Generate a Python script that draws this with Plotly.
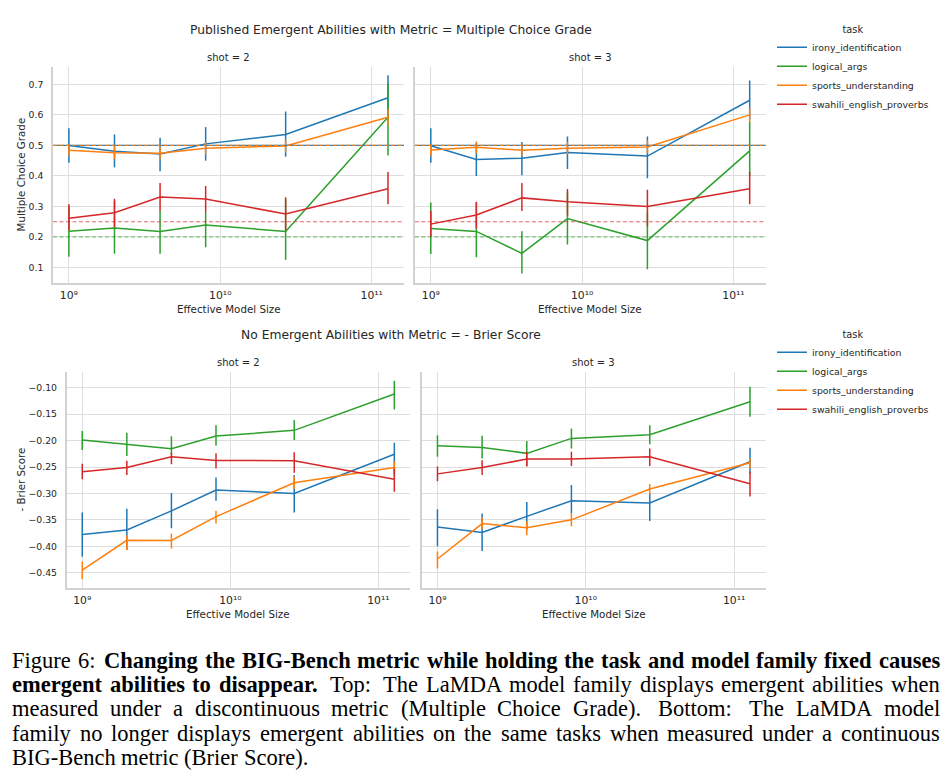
import plotly.graph_objects as go

# ---------------- data ----------------
sizes = [1e9, 2e9, 4e9, 8e9, 2.7e10, 1.28e11]
tasks = ["irony_identification", "logical_args", "sports_understanding", "swahili_english_proverbs"]
colors = {"irony_identification": "#1f77b4", "logical_args": "#2ca02c",
          "sports_understanding": "#ff7f0e", "swahili_english_proverbs": "#d62728"}
chance = {"irony_identification": 0.5, "logical_args": 0.2,
          "sports_understanding": 0.5, "swahili_english_proverbs": 0.25}
x_tickvals = [1e9, 1e10, 1e11]
x_ticktext = ["10\u2079", "10\u00b9\u2070", "10\u00b9\u00b9"]

# Multiple Choice Grade, shot = 2
mcg_s2 = {"irony_identification": [0.500, 0.481, 0.472, 0.505, 0.536, 0.656],
          "logical_args": [0.219, 0.229, 0.218, 0.239, 0.218, 0.592],
          "sports_understanding": [0.484, 0.476, 0.474, 0.491, 0.498, 0.592],
          "swahili_english_proverbs": [0.261, 0.279, 0.331, 0.324, 0.275, 0.358]}
mcg_s2_lo = {"irony_identification": [0.443, 0.428, 0.415, 0.450, 0.463, 0.585],
             "logical_args": [0.135, 0.145, 0.145, 0.166, 0.125, 0.467],
             "sports_understanding": [0.466, 0.455, 0.455, 0.470, 0.477, 0.565],
             "swahili_english_proverbs": [0.222, 0.232, 0.285, 0.282, 0.222, 0.307]}
mcg_s2_hi = {"irony_identification": [0.556, 0.536, 0.525, 0.560, 0.611, 0.730],
             "logical_args": [0.302, 0.318, 0.285, 0.282, 0.325, 0.703],
             "sports_understanding": [0.504, 0.497, 0.494, 0.511, 0.520, 0.619],
             "swahili_english_proverbs": [0.307, 0.325, 0.377, 0.367, 0.330, 0.413]}

# Multiple Choice Grade, shot = 3
mcg_s3 = {"irony_identification": [0.499, 0.454, 0.458, 0.477, 0.465, 0.648],
          "logical_args": [0.228, 0.218, 0.146, 0.260, 0.188, 0.482],
          "sports_understanding": [0.485, 0.494, 0.484, 0.491, 0.495, 0.600],
          "swahili_english_proverbs": [0.242, 0.272, 0.328, 0.315, 0.300, 0.358]}
mcg_s3_lo = {"irony_identification": [0.443, 0.400, 0.402, 0.423, 0.392, 0.585],
             "logical_args": [0.144, 0.133, 0.080, 0.175, 0.094, 0.400],
             "sports_understanding": [0.466, 0.474, 0.465, 0.471, 0.474, 0.575],
             "swahili_english_proverbs": [0.200, 0.228, 0.285, 0.270, 0.235, 0.307]}
mcg_s3_hi = {"irony_identification": [0.556, 0.508, 0.511, 0.529, 0.529, 0.713],
             "logical_args": [0.313, 0.313, 0.219, 0.345, 0.280, 0.579],
             "sports_understanding": [0.505, 0.513, 0.504, 0.512, 0.516, 0.624],
             "swahili_english_proverbs": [0.285, 0.315, 0.377, 0.357, 0.355, 0.413]}

# - Brier Score, shot = 2
brier_s2 = {"irony_identification": [-0.3775, -0.369, -0.333, -0.2936, -0.300, -0.226],
            "logical_args": [-0.199, -0.2066, -0.2154, -0.1914, -0.1807, -0.112],
            "sports_understanding": [-0.445, -0.3888, -0.389, -0.344, -0.2797, -0.251],
            "swahili_english_proverbs": [-0.259, -0.251, -0.2305, -0.2375, -0.238, -0.273]}
brier_s2_lo = {"irony_identification": [-0.420, -0.407, -0.366, -0.314, -0.336, -0.262],
               "logical_args": [-0.218, -0.229, -0.227, -0.210, -0.199, -0.141],
               "sports_understanding": [-0.4626, -0.407, -0.404, -0.357, -0.291, -0.268],
               "swahili_english_proverbs": [-0.273, -0.265, -0.245, -0.253, -0.261, -0.297]}
brier_s2_hi = {"irony_identification": [-0.336, -0.329, -0.299, -0.270, -0.265, -0.204],
               "logical_args": [-0.182, -0.185, -0.192, -0.171, -0.161, -0.087],
               "sports_understanding": [-0.429, -0.379, -0.376, -0.333, -0.268, -0.240],
               "swahili_english_proverbs": [-0.244, -0.238, -0.223, -0.224, -0.222, -0.253]}

# - Brier Score, shot = 3
brier_s3 = {"irony_identification": [-0.3636, -0.3737, -0.3434, -0.3138, -0.318, -0.240],
            "logical_args": [-0.2097, -0.2129, -0.2242, -0.1959, -0.189, -0.1265],
            "sports_understanding": [-0.424, -0.357, -0.365, -0.350, -0.2917, -0.242],
            "swahili_english_proverbs": [-0.263, -0.251, -0.235, -0.235, -0.2305, -0.2816]}
brier_s3_lo = {"irony_identification": [-0.400, -0.409, -0.369, -0.338, -0.352, -0.262],
               "logical_args": [-0.2305, -0.234, -0.248, -0.215, -0.207, -0.155],
               "sports_understanding": [-0.442, -0.368, -0.379, -0.362, -0.302, -0.253],
               "swahili_english_proverbs": [-0.277, -0.265, -0.249, -0.248, -0.248, -0.306]}
brier_s3_hi = {"irony_identification": [-0.330, -0.338, -0.316, -0.284, -0.300, -0.2135],
               "logical_args": [-0.190, -0.191, -0.201, -0.177, -0.171, -0.098],
               "sports_understanding": [-0.410, -0.345, -0.353, -0.338, -0.282, -0.234],
               "swahili_english_proverbs": [-0.249, -0.237, -0.221, -0.221, -0.215, -0.259]}

top_title = "Published Emergent Abilities with Metric = Multiple Choice Grade"
bottom_title = "No Emergent Abilities with Metric = - Brier Score"
x_label = "Effective Model Size"
y_labels = ["Multiple Choice Grade", "- Brier Score"]
shot_labels = ["shot = 2", "shot = 3"]

caption_lines = [
    [("Figure 6:", False), ("Changing the BIG-Bench metric while holding the task and model family fixed causes", True)],
    [("emergent abilities to disappear.", True), ("Top: The LaMDA model family displays emergent abilities when", False)],
    [("measured under a discontinuous metric (Multiple Choice Grade). Bottom: The LaMDA model", False)],
    [("family no longer displays emergent abilities on the same tasks when measured under a continuous", False)],
    [("BIG-Bench metric (Brier Score).", False)],
]

# ---------------- layout helpers ----------------
W, H = 945, 776
FONT = "DejaVu Sans"
TXT = "#262626"


def px(x):
    return x / W


def py(y):
    return 1 - y / H


# (x-left, x-right, y-top, y-bottom) in pixels
panels = [
    ("x", "y", 53.0, 404.0, 67.0, 283.0),
    ("x2", "y2", 414.9, 765.7, 67.0, 283.0),
    ("x3", "y3", 66.7, 410.0, 371.7, 588.3),
    ("x4", "y4", 421.9, 765.7, 371.7, 588.3),
]
panel_data = [
    (mcg_s2, mcg_s2_lo, mcg_s2_hi, "legend", True),
    (mcg_s3, mcg_s3_lo, mcg_s3_hi, "legend", False),
    (brier_s2, brier_s2_lo, brier_s2_hi, "legend2", True),
    (brier_s3, brier_s3_lo, brier_s3_hi, "legend2", False),
]

fig = go.Figure()

for (xa, ya, *_), (mean, lo, hi, leg, show) in zip(panels, panel_data):
    for t in tasks:
        y = mean[t]
        fig.add_trace(go.Scatter(
            x=sizes, y=y, mode="lines", name=t, legend=leg, showlegend=show,
            line=dict(color=colors[t], width=1.5),
            error_y=dict(type="data", symmetric=False,
                         array=[h - v for h, v in zip(hi[t], y)],
                         arrayminus=[v - l for v, l in zip(y, lo[t])],
                         color=colors[t], thickness=1.5, width=0),
            xaxis=xa, yaxis=ya,
        ))

XRANGE = [8.895, 11.213]
GRID = "#dedede"
SPINE = "#d2d2d2"

layout = dict(
    width=W, height=H, margin=dict(l=0, r=0, t=0, b=0),
    paper_bgcolor="white", plot_bgcolor="white",
    font=dict(family=FONT, color=TXT),
    showlegend=True,
)

yranges = [[0.049, 0.757], [0.049, 0.757], [-0.4795, -0.0697], [-0.4795, -0.0697]]
for i, (xa, ya, x0, x1, y0, y1) in enumerate(panels):
    xkey = "xaxis" if xa == "x" else "xaxis" + xa[1:]
    ykey = "yaxis" if ya == "y" else "yaxis" + ya[1:]
    layout[xkey] = dict(
        domain=[px(x0), px(x1)], anchor=ya, type="log", range=XRANGE,
        tickmode="array", tickvals=x_tickvals, ticktext=x_ticktext,
        showgrid=True, gridcolor=GRID, gridwidth=1.3,
        showline=True, linecolor=SPINE, linewidth=1.6, zeroline=False, ticks="",
        tickfont=dict(size=10.8, color=TXT), ticklabelstandoff=1,
    )
    top = i < 2
    layout[ykey] = dict(
        domain=[py(y1), py(y0)], anchor=xa, range=yranges[i],
        dtick=0.1 if top else 0.05, tick0=0, tickformat=".1f" if top else ".2f",
        showgrid=True, gridcolor=GRID, gridwidth=1.3,
        showline=True, linecolor=SPINE, linewidth=1.6, zeroline=False, ticks="",
        showticklabels=(i % 2 == 0), tickfont=dict(size=9.3, color=TXT),
        ticklabelstandoff=6,
    )
    if i % 2 == 1:
        layout[ykey]["matches"] = "y" if top else "y3"

legend_common = dict(
    xanchor="left", yanchor="top", bgcolor="rgba(0,0,0,0)", borderwidth=0,
    font=dict(size=9.4, color=TXT, family=FONT), traceorder="normal",
    title=dict(text="task", side="top center", font=dict(size=9.8, color=TXT)),
    tracegroupgap=0,
)
layout["legend"] = dict(legend_common, x=px(772), y=py(20))
layout["legend2"] = dict(legend_common, x=px(772), y=py(325))

fig.update_layout(**layout)

# chance lines on the top row
shapes = []
for xa, ya in [("x", "y"), ("x2", "y2")]:
    for t in ["logical_args", "swahili_english_proverbs", "irony_identification", "sports_understanding"]:
        dash = "solid" if t == "irony_identification" else "4px,2.5px"
        op = 0.9 if chance[t] == 0.5 else 0.7
        shapes.append(dict(type="line", xref=xa + " domain", x0=0, x1=1,
                           yref=ya, y0=chance[t], y1=chance[t], layer="above",
                           line=dict(color=colors[t], width=1.1, dash=dash), opacity=op))
fig.update_layout(shapes=shapes)

# text: titles, subplot titles, axis titles
ann = []
ann.append(dict(text=top_title, x=px(390.5), y=py(30), font=dict(size=12.3)))
ann.append(dict(text=bottom_title, x=px(391.0), y=py(335), font=dict(size=12.3)))
for i, (xa, ya, x0, x1, y0, y1) in enumerate(panels):
    cx = (x0 + x1) / 2
    ann.append(dict(text=shot_labels[i % 2], x=px(cx), y=py(y0 - 9.5), font=dict(size=10)))
    ann.append(dict(text=x_label, x=px(cx), y=py(y1 + 26), font=dict(size=10.3)))
    if i % 2 == 0:
        ann.append(dict(text=y_labels[i // 2], x=px(20.5), y=py((y0 + y1) / 2), textangle=-90,
                        font=dict(size=10.3)))
for a in ann:
    a.update(xref="paper", yref="paper", showarrow=False, xanchor="center", yanchor="middle")
    a["font"].update(family=FONT, color=TXT)

# ---------------- caption (justified, Times-metric serif) ----------------
REG = dict(zip("abcdefghijklmnopqrstuvwxyz",
               [444, 500, 444, 500, 444, 333, 500, 500, 278, 278, 500, 278, 778,
                500, 500, 500, 500, 333, 389, 278, 500, 500, 722, 500, 500, 444]))
REG.update({"A": 722, "B": 667, "C": 667, "D": 722, "F": 556, "G": 722, "I": 333,
            "L": 611, "M": 889, "S": 556, "T": 611, "6": 500, ":": 278, ".": 250,
            "-": 333, "(": 333, ")": 333})
BOLD = dict(zip("abcdefghijklmnopqrstuvwxyz",
                [500, 556, 444, 556, 444, 333, 500, 556, 278, 333, 556, 278, 833,
                 556, 500, 556, 556, 444, 389, 333, 556, 500, 722, 500, 500, 444]))
BOLD.update({"A": 722, "B": 667, "C": 722, "D": 722, "G": 778, "I": 389, "M": 944,
             "T": 667, ":": 333, ".": 250, "-": 333})

CAP_SIZE = 22.5
CAP_X0, CAP_X1 = 12.0, 940.0
CAP_BASE0, CAP_STEP = 667.7, 24.4


def word_w(w, bold):
    tab = BOLD if bold else REG
    return sum(tab.get(c, 500) for c in w) * CAP_SIZE / 1000.0


for li, segs in enumerate(caption_lines):
    words = []
    for text, bold in segs:
        for w in text.split():
            words.append((w, bold))
    widths = [word_w(w, b) for w, b in words]
    base = []
    weights = []
    for w, b in words[:-1]:
        end = w[-1] in ".:"
        base.append(CAP_SIZE * (0.33 if end else 0.25))
        weights.append(1.6 if end else 1.0)
    justify = li < len(caption_lines) - 1
    extra = (CAP_X1 - CAP_X0 - sum(widths) - sum(base)) if justify else 0.0
    tot_w = sum(weights) if weights else 1.0
    x = CAP_X0
    yc = CAP_BASE0 + li * CAP_STEP - 7.6
    for k, ((w, b), ww) in enumerate(zip(words, widths)):
        ann.append(dict(text=("<b>%s</b>" % w) if b else w, x=px(x), y=py(yc), xref="paper",
                        yref="paper", showarrow=False, xanchor="left", yanchor="middle",
                        borderpad=0, borderwidth=0,
                        font=dict(family="Liberation Serif", size=CAP_SIZE, color="black")))
        if k < len(base):
            x += ww + base[k] + extra * weights[k] / tot_w

fig.update_layout(annotations=ann)

fig.write_html("out.html")
